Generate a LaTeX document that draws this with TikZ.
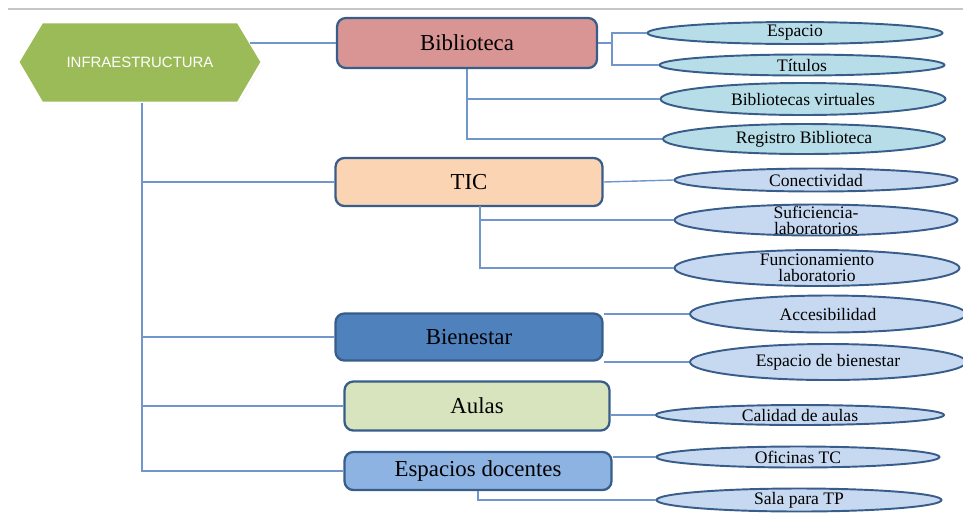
\documentclass[tikz,border=0pt]{standalone}
\usepackage{fontspec}
\setmainfont{Liberation Serif}
\newfontfamily\hexfont{Liberation Sans}
\usetikzlibrary{shapes,shadows}
\definecolor{linkblue}{RGB}{112,150,204}
\definecolor{rimblue}{RGB}{56,93,138}
\definecolor{hexgreen}{RGB}{155,187,89}
\definecolor{bibred}{RGB}{217,149,148}
\definecolor{ticpeach}{RGB}{251,212,180}
\definecolor{bienblue}{RGB}{79,129,189}
\definecolor{aulagreen}{RGB}{215,228,189}
\definecolor{docblue}{RGB}{141,179,226}
\definecolor{bibleaf}{RGB}{183,222,232}
\definecolor{leafblue}{RGB}{198,217,241}
\tikzstyle{block} = [draw=rimblue, line width=1.3pt, rectangle, rounded corners=5pt,
    minimum width=5.34cm, minimum height=0.96cm, font=\fontsize{13}{15}\selectfont]
\tikzstyle{leaf} = [draw=rimblue, line width=1.1pt, ellipse, fill=leafblue,
    inner xsep=0pt, inner ysep=-1pt, font=\fontsize{10}{11}\selectfont]
\tikzstyle{twoline} = [align=center, inner ysep=-8pt, font=\fontsize{10}{9}\selectfont]
\tikzstyle{link} = [draw=linkblue, line width=0.8pt]
\tikzstyle{hexa} = [fill=hexgreen, draw=white, line width=1.5pt,
    drop shadow={opacity=0.25, shadow xshift=0.6pt, shadow yshift=-0.6pt}]
\begin{document}
\begin{tikzpicture}[x=0.02cm, y=-0.02cm]
    \useasboundingbox (0,0) rectangle (963,522);
    \draw [gray!45, line width=0.8pt] (8,9) -- (963,9);
    % the hexagon first, then the blocks
    \draw [hexa] (18,62) -- (42,22) -- (238,22) -- (262,62) -- (238,103) -- (42,103) -- cycle;
    \node [text=white, font=\hexfont\fontsize{8.5}{10}\selectfont] (infra) at (140,62) {INFRAESTRUCTURA};
    \coordinate (hexr) at (250,43);
    \coordinate (hexs) at (142,103);
    \node [block, fill=bibred, minimum width=5.2cm, minimum height=1.0cm] (bib) at (467,43) {Biblioteca};
    \node [block, fill=ticpeach] (tic) at (469,182) {TIC};
    \node [block, fill=bienblue, minimum height=0.94cm] (bien) at (469,337) {Bienestar};
    \node [block, fill=aulagreen, minimum width=5.3cm, minimum height=0.98cm] (aulas) at (477,406) {Aulas};
    \node [block, fill=docblue, minimum height=0.76cm] (doc) at (478,471) {Espacios docentes};
    % the ellipses on the right
    \node [leaf, fill=bibleaf, minimum width=5.9cm, minimum height=0.44cm] (espacio) at (795,33) {Espacio};
    \node [leaf, fill=bibleaf, minimum width=5.7cm, minimum height=0.42cm] (titulos) at (802,65) {Títulos};
    \node [leaf, fill=bibleaf, minimum width=5.7cm, minimum height=0.64cm] (bibvirt) at (803,99) {Bibliotecas virtuales};
    \node [leaf, fill=bibleaf, minimum width=5.64cm, minimum height=0.6cm] (registro) at (804,139) {Registro Biblioteca};
    \node [leaf, minimum width=5.66cm, minimum height=0.46cm] (conect) at (816,180) {Conectividad};
    \node [leaf, twoline, minimum width=5.66cm, minimum height=0.62cm] (sufic) at (816,220) {Suficiencia-\\laboratorios};
    \node [leaf, twoline, minimum width=5.7cm, minimum height=0.72cm] (funcion) at (817,268) {Funcionamiento\\laboratorio};
    \node [leaf, minimum width=5.52cm, minimum height=0.74cm] (acces) at (828,314) {Accesibilidad};
    \node [leaf, minimum width=5.52cm, minimum height=0.72cm] (espbien) at (828,362) {Espacio de bienestar};
    \node [leaf, minimum width=5.76cm, minimum height=0.4cm] (calidad) at (800,415) {Calidad de aulas};
    \node [leaf, minimum width=5.66cm, minimum height=0.42cm] (oficinas) at (798,457) {Oficinas TC};
    \node [leaf, minimum width=5.7cm, minimum height=0.46cm] (sala) at (799,500) {Sala para TP};
    \coordinate (bibfork) at (612,43);
    \coordinate (ticdrop) at (480,206);
    % connecting them
    \draw [link] (hexr) -- (bib.west);
    \draw [link] (hexs) |- (tic.west);
    \draw [link] (hexs) |- (bien.west);
    \draw [link] (hexs) |- (aulas.west);
    \draw [link] (hexs) |- (doc.west);
    \draw [link] (bib.east) -- (bibfork) |- (espacio.west);
    \draw [link] (bibfork) |- (titulos.west);
    \draw [link] (bib.south) |- (bibvirt.west);
    \draw [link] (bib.south) |- (registro.west);
    \draw [link] (tic.east) -- (conect.west);
    \draw [link] (ticdrop) |- (sufic.west);
    \draw [link] (ticdrop) |- (funcion.west);
    \draw [link] (acces.west -| bien.east) -- (acces.west);
    \draw [link] (espbien.west -| bien.east) -- (espbien.west);
    \draw [link] (calidad.west -| aulas.east) -- (calidad.west);
    \draw [link] (oficinas.west -| doc.east) -- (oficinas.west);
    \draw [link] (doc.south) |- (sala.west);
\end{tikzpicture}
\end{document}
